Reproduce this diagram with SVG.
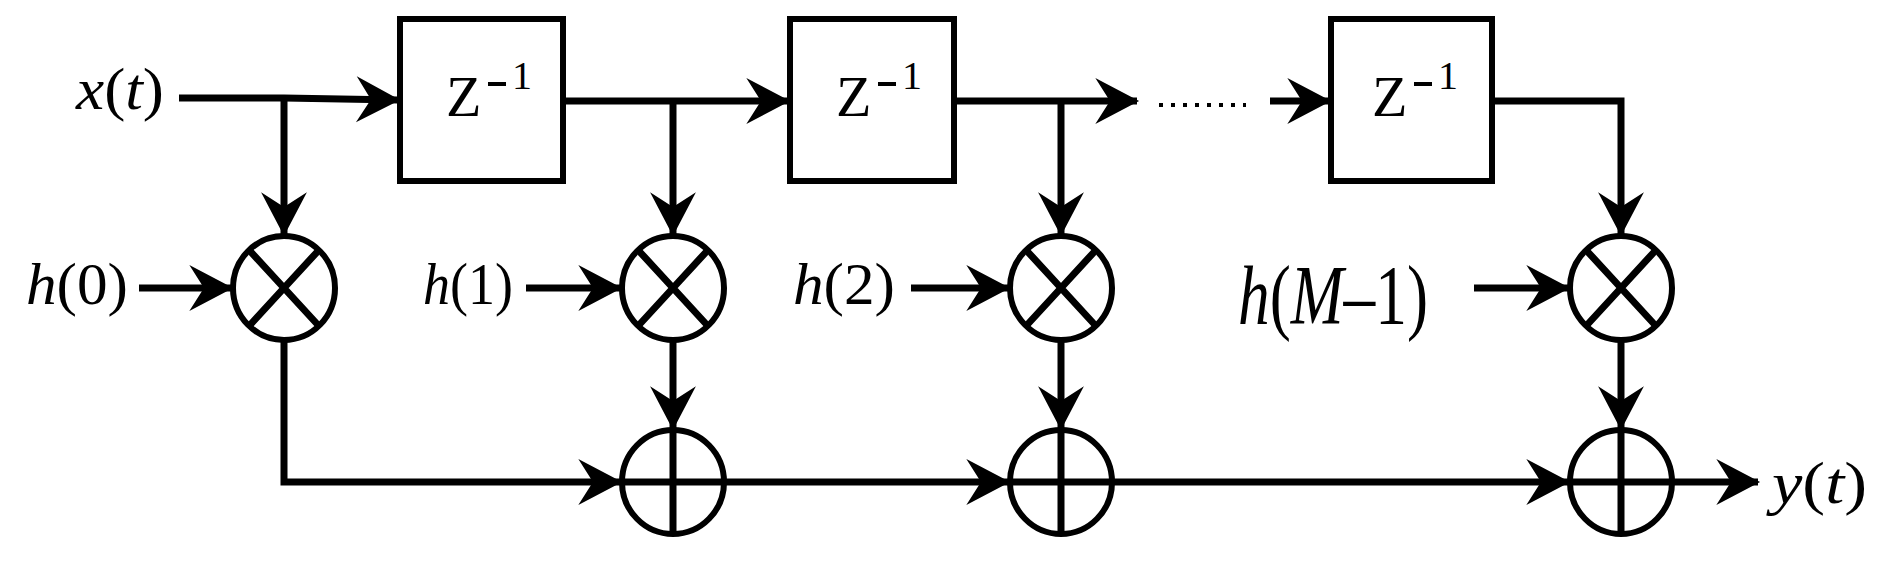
<svg xmlns="http://www.w3.org/2000/svg" width="1891" height="568" viewBox="0 0 1891 568">
<style>
.l{fill:none;stroke:#000;stroke-width:7}
.n{fill:#fff;stroke:#000;stroke-width:6}
.t{font-family:"Liberation Serif","Times New Roman","DejaVu Serif",serif;fill:#000}
.i{font-style:italic}
</style>
<defs>
<marker id="a" markerUnits="userSpaceOnUse" markerWidth="50" markerHeight="54" viewBox="-44 -25 48 50" refX="0" refY="0" orient="auto">
<path d="M2,0 L-40,-22 L-26,0 L-40,22 z" fill="#000"/>
</marker>
<g id="mul"><ellipse cx="0" cy="0" rx="51" ry="52" class="n"/><path d="M-34,-37 L34,37 M34,-37 L-34,37" class="l" stroke-width="6"/></g>
<g id="add"><ellipse cx="0" cy="0" rx="51" ry="52" class="n"/><path d="M-51,0 H51 M0,-52 V52" class="l" stroke-width="6"/></g>
</defs>
<g id="connectors">
<path class="l" d="M179,98 H284 L398,100" marker-end="url(#a)"/>
<path class="l" d="M563,101 H788" marker-end="url(#a)"/>
<path class="l" d="M954,101 H1137" marker-end="url(#a)"/>
<path class="l" d="M1270,101 H1329" marker-end="url(#a)"/>
<path class="l" d="M1492,101 H1621 V234" marker-end="url(#a)"/>
<path class="l" d="M284,98 V234" marker-end="url(#a)"/>
<path class="l" d="M673,101 V234" marker-end="url(#a)"/>
<path class="l" d="M1061,101 V234" marker-end="url(#a)"/>
<path class="l" d="M139,288 H231" marker-end="url(#a)"/>
<path class="l" d="M526,288 H620" marker-end="url(#a)"/>
<path class="l" d="M911,288 H1008" marker-end="url(#a)"/>
<path class="l" d="M1474,288 H1568" marker-end="url(#a)"/>
<path class="l" d="M673,340 V428" marker-end="url(#a)"/>
<path class="l" d="M1061,340 V428" marker-end="url(#a)"/>
<path class="l" d="M1621,340 V428" marker-end="url(#a)"/>
<path class="l" d="M284,340 V482 H620" marker-end="url(#a)"/>
<path class="l" d="M724,482 H1008" marker-end="url(#a)"/>
<path class="l" d="M1112,482 H1568" marker-end="url(#a)"/>
<path class="l" d="M1672,482 H1758" marker-end="url(#a)"/>
<path d="M1159,105 H1246" stroke="#000" stroke-width="4" stroke-dasharray="4,8"/>
</g>
<g id="delay1"><rect x="400" y="19" width="163" height="162" class="n"/><text class="t" x="446" y="116" font-size="58">Z</text><rect x="488" y="82" width="18" height="4"/><text class="t" x="512" y="89" font-size="40">1</text></g>
<g id="delay2"><rect x="790" y="19" width="164" height="162" class="n"/><text class="t" x="836" y="116" font-size="58">Z</text><rect x="878" y="82" width="18" height="4"/><text class="t" x="902" y="89" font-size="40">1</text></g>
<g id="delay3"><rect x="1331" y="19" width="161" height="162" class="n"/><text class="t" x="1372" y="116" font-size="58">Z</text><rect x="1414" y="82" width="18" height="4"/><text class="t" x="1438" y="89" font-size="40">1</text></g>
<g id="mul1"><use href="#mul" x="284" y="288"/></g>
<g id="mul2"><use href="#mul" x="673" y="288"/></g>
<g id="mul3"><use href="#mul" x="1061" y="288"/></g>
<g id="mul4"><use href="#mul" x="1621" y="288"/></g>
<g id="add1"><use href="#add" x="673" y="482"/></g>
<g id="add2"><use href="#add" x="1061" y="482"/></g>
<g id="add3"><use href="#add" x="1621" y="482"/></g>
<g id="labels">
<text class="t" x="76" y="109" font-size="60" textLength="88" lengthAdjust="spacingAndGlyphs"><tspan class="i">x</tspan>(<tspan class="i">t</tspan>)</text>
<text class="t" x="26" y="304" font-size="60" textLength="102" lengthAdjust="spacingAndGlyphs"><tspan class="i">h</tspan>(0)</text>
<text class="t" x="423" y="304" font-size="60" textLength="90" lengthAdjust="spacingAndGlyphs"><tspan class="i">h</tspan>(1)</text>
<text class="t" x="793" y="304" font-size="60" textLength="102" lengthAdjust="spacingAndGlyphs"><tspan class="i">h</tspan>(2)</text>
<text class="t" x="1238" y="324" font-size="84" textLength="190" lengthAdjust="spacingAndGlyphs"><tspan class="i">h</tspan>(<tspan class="i">M</tspan>–1)</text>
<text class="t" x="1772" y="503" font-size="60" textLength="95" lengthAdjust="spacingAndGlyphs"><tspan class="i">y</tspan>(<tspan class="i">t</tspan>)</text>
</g>
</svg>
